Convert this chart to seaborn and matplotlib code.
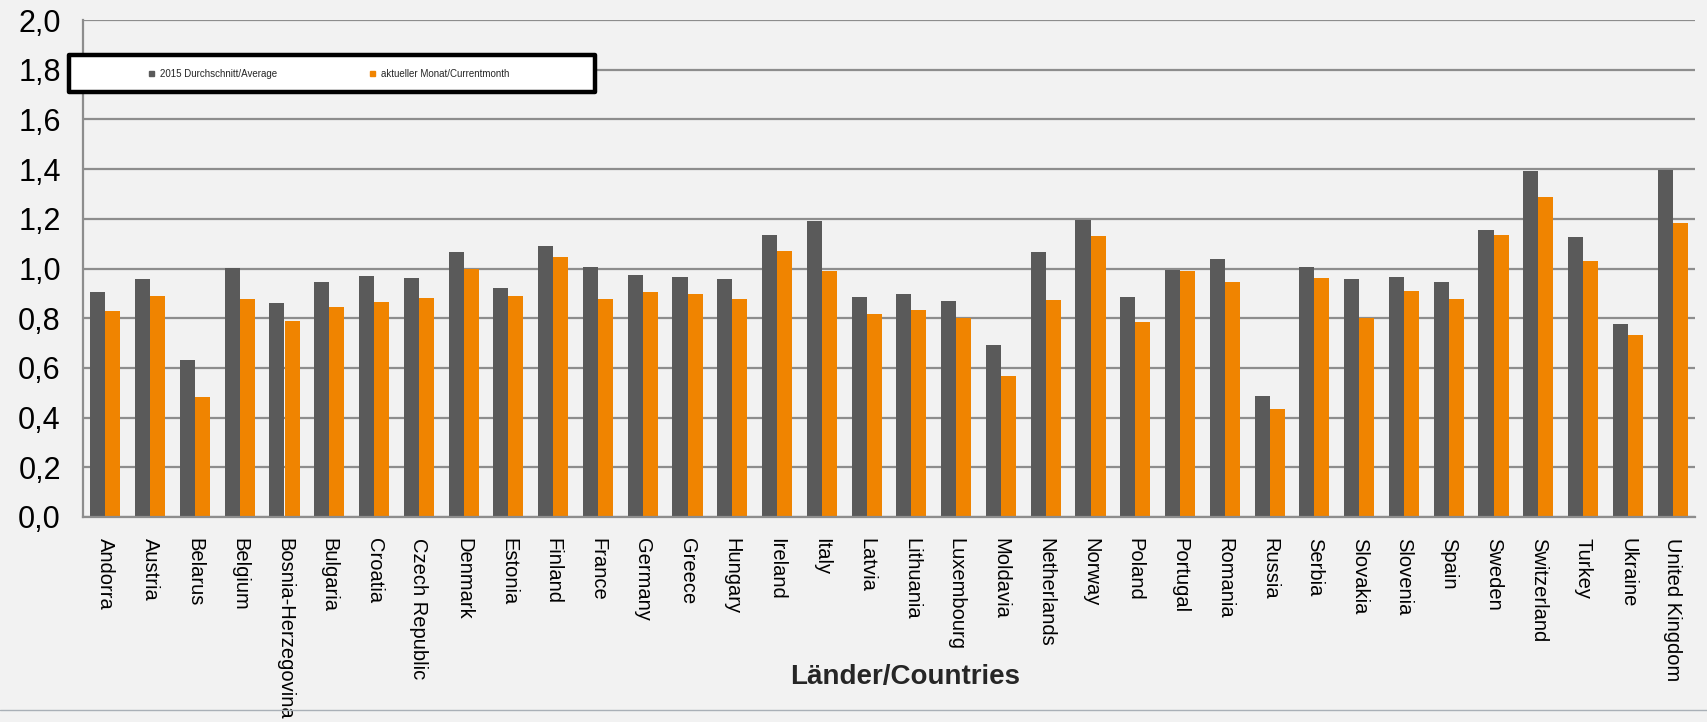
import seaborn as sns
import matplotlib.pyplot as plt
import matplotlib.patches as mpatches
import matplotlib.lines as mlines
import numpy as np
import pandas as pd

# chart values
countries = ["Andorra", "Austria", "Belarus", "Belgium", "Bosnia-Herzegovina", "Bulgaria",
             "Croatia", "Czech Republic", "Denmark", "Estonia", "Finland", "France",
             "Germany", "Greece", "Hungary", "Ireland", "Italy", "Latvia", "Lithuania",
             "Luxembourg", "Moldavia", "Netherlands", "Norway", "Poland", "Portugal",
             "Romania", "Russia", "Serbia", "Slovakia", "Slovenia", "Spain", "Sweden",
             "Switzerland", "Turkey", "Ukraine", "United Kingdom"]
avg_2015 = [0.907, 0.956, 0.630, 1.004, 0.863, 0.944, 0.968, 0.960, 1.068, 0.923,
            1.089, 1.008, 0.972, 0.964, 0.956, 1.133, 1.193, 0.887, 0.899, 0.871,
            0.694, 1.068, 1.197, 0.887, 0.992, 1.040, 0.485, 1.008, 0.956, 0.964,
            0.944, 1.153, 1.391, 1.125, 0.775, 1.396]
current_month = [0.827, 0.891, 0.481, 0.879, 0.787, 0.847, 0.867, 0.883, 1.000, 0.891,
                 1.048, 0.879, 0.907, 0.899, 0.879, 1.072, 0.988, 0.815, 0.831, 0.799,
                 0.569, 0.875, 1.129, 0.783, 0.988, 0.944, 0.436, 0.960, 0.799, 0.911,
                 0.879, 1.133, 1.286, 1.032, 0.734, 1.185]
series_names = ["2015 Durchschnitt/Average", "aktueller Monat/Currentmonth"]
y_ticks = [0.0, 0.2, 0.4, 0.6, 0.8, 1.0, 1.2, 1.4, 1.6, 1.8, 2.0]
y_tick_labels = ["0,0", "0,2", "0,4", "0,6", "0,8", "1,0", "1,2", "1,4", "1,6", "1,8", "2,0"]

df = pd.DataFrame({
    "country": countries * 2,
    "value": avg_2015 + current_month,
    "series": [series_names[0]] * len(countries) + [series_names[1]] * len(countries),
})

sns.set_style("white")
plt.rcParams["font.family"] = ["Liberation Sans", "DejaVu Sans"]

W, H = 1707, 722
fig = plt.figure(figsize=(W / 100, H / 100), dpi=100, facecolor="#f2f2f2")
ax = fig.add_axes([83 / W, (H - 517) / H, 1612 / W, 497 / H])
ax.set_facecolor("#f2f2f2")

grey = "#5a5a5a"
orange = "#f08400"
line_col = "#8d8d8d"

sns.barplot(data=df, x="country", y="value", hue="series", palette=[grey, orange],
            width=0.67, gap=0, ax=ax, saturation=1, linewidth=0, legend=False)

n = len(countries)
ax.set_xlim(-0.5, n - 0.5)
ax.set_ylim(0, 2.0)
ax.set_yticks(y_ticks)
ax.set_yticklabels(y_tick_labels, fontsize=22, color="black")
ax.yaxis.grid(True, color=line_col, linewidth=1.6)
ax.set_axisbelow(True)

ax.set_xticks(np.arange(n))
ax.set_xticklabels(countries, rotation=270, fontsize=14.5, va="top", ha="center", color="black")
ax.set_xticks(np.arange(-0.5, n, 1), minor=True)
ax.tick_params(axis="x", which="major", length=0, pad=15)
ax.tick_params(axis="x", which="minor", length=6, width=1.5, color=line_col)
ax.tick_params(axis="y", length=8, width=1.5, color=line_col, pad=8)

for side in ["top", "right"]:
    ax.spines[side].set_visible(False)
for side in ["left", "bottom"]:
    ax.spines[side].set_color(line_col)
    ax.spines[side].set_linewidth(1.6)

ax.set_ylabel("")
ax.set_xlabel("Länder/Countries", fontsize=20, fontweight="bold", va="center")
ax.xaxis.set_label_coords((905 - 83) / 1612, (517 - 677) / 497)

# legend box
box = mpatches.Rectangle((69 / W, 1 - 92 / H), 526 / W, 37 / H, transform=fig.transFigure,
                         facecolor="white", edgecolor="black", linewidth=3.2,
                         joinstyle="round", clip_on=False, zorder=10)
ax.add_patch(box)
handles = [mpatches.Patch(color=grey), mpatches.Patch(color=orange)]
leg = ax.legend(handles, series_names, loc="center left",
                bbox_to_anchor=(149 / W, 1 - 74 / H), bbox_transform=fig.transFigure,
                ncol=2, frameon=False, fontsize=7, handlelength=0.5, handleheight=0.5,
                handletextpad=0.6, columnspacing=9.6, borderpad=0, borderaxespad=0)
leg.set_zorder(11)

# bottom edge line of the screenshot
fig.add_artist(mlines.Line2D([0, 1], [1 - 710 / H, 1 - 710 / H], color="#a9b0b7", linewidth=1))

fig.savefig("out.png", dpi=100, facecolor=fig.get_facecolor())
